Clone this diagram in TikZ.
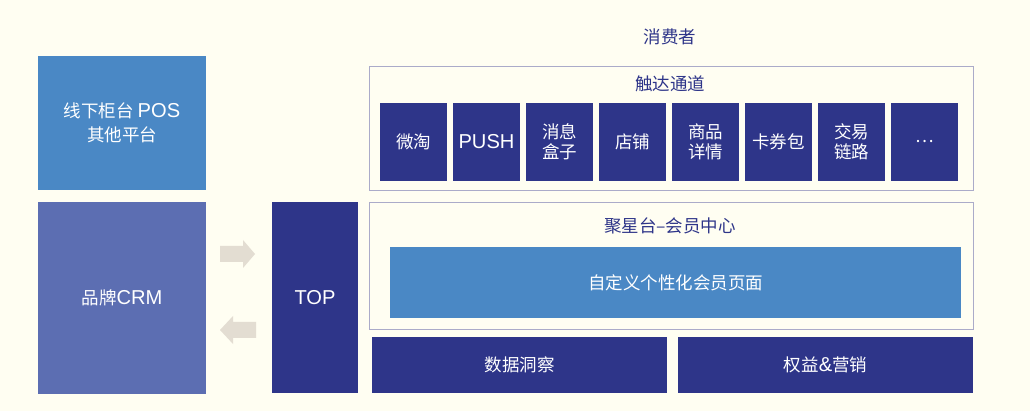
\documentclass[tikz,border=0pt]{standalone}
\usepackage{fontspec}
\setmainfont{Noto Sans CJK SC}
\newfontfamily\latinf[Scale=1.15]{Liberation Sans}
\begin{document}
\begin{tikzpicture}[x=1pt,y=-1pt,
  every node/.style={inner sep=0pt,outer sep=0pt},
  navybox/.style={fill=navy,draw=none,text=white,font=\fontsize{17.5}{20.5}\selectfont,align=center},
  lightbox/.style={fill=lblue,draw=none,text=white,font=\fontsize{17.5}{24}\selectfont,align=center},
  container/.style={draw=cborder,line width=0.8pt,fill=none},
  title/.style={text=navy,font=\fontsize{17.5}{20}\selectfont},
  blockarrow/.style={fill=arrowc,draw=none}]
\definecolor{navy}{HTML}{2E3589}
\definecolor{lblue}{HTML}{4A88C5}
\definecolor{crm}{HTML}{5C6EB2}
\definecolor{bg}{HTML}{FFFEF2}
\definecolor{cborder}{HTML}{ABABC9}
\definecolor{arrowc}{HTML}{E3DDD2}
\fill[bg] (0,0) rectangle (1030,411);
\useasboundingbox (0,0) rectangle (1030,411);
% left
\node[lightbox,minimum width=168pt,minimum height=134pt,anchor=north west] (pos) at (38,56) {线下柜台 {\latinf POS}\\其他平台};
\node[fill=crm,text=white,font=\fontsize{17.5}{20}\selectfont,minimum width=168pt,minimum height=192pt,anchor=north west] (crm) at (38,202) {品牌{\latinf CRM}};
\node[navybox,minimum width=86pt,minimum height=191pt,anchor=north west] (top) at (272,202) {\latinf TOP};
% arrows
\fill[blockarrow] (220,246) -- (243,246) -- (243,240) -- (255,254) -- (243,268) -- (243,262) -- (220,262) -- cycle;
\fill[blockarrow] (256,322) -- (233,322) -- (233,316) -- (220,330) -- (233,344) -- (233,338) -- (256,338) -- cycle;
% top
\node[title] (consumer) at (670,37) {消费者};
\node[container,minimum width=604pt,minimum height=124pt,anchor=north west] (reach) at (369,66) {};
\node[title] (reacht) at (670,84) {触达通道};
\foreach \i/\t in {0/微淘,1/{\latinf PUSH},2/消息\\盒子,3/店铺,4/商品\\详情,5/卡券包,6/交易\\链路,7/…}{
  \node[navybox,minimum width=67pt,minimum height=78pt,anchor=north west] (ch\i) at (380+73*\i,103) {\t};
}
% middle
\node[container,minimum width=604pt,minimum height=127pt,anchor=north west] (jx) at (369,202) {};
\node[title] (jxt) at (670,226) {聚星台–会员中心};
\node[lightbox,minimum width=571pt,minimum height=71pt,anchor=north west] (page) at (390,247) {自定义个性化会员页面};
% bottom
\node[navybox,minimum width=295pt,minimum height=56pt,anchor=north west] (data) at (372,337) {数据洞察};
\node[navybox,minimum width=295pt,minimum height=56pt,anchor=north west] (mkt) at (678,337) {权益{\latinf\&}营销};
\end{tikzpicture}
\end{document}
